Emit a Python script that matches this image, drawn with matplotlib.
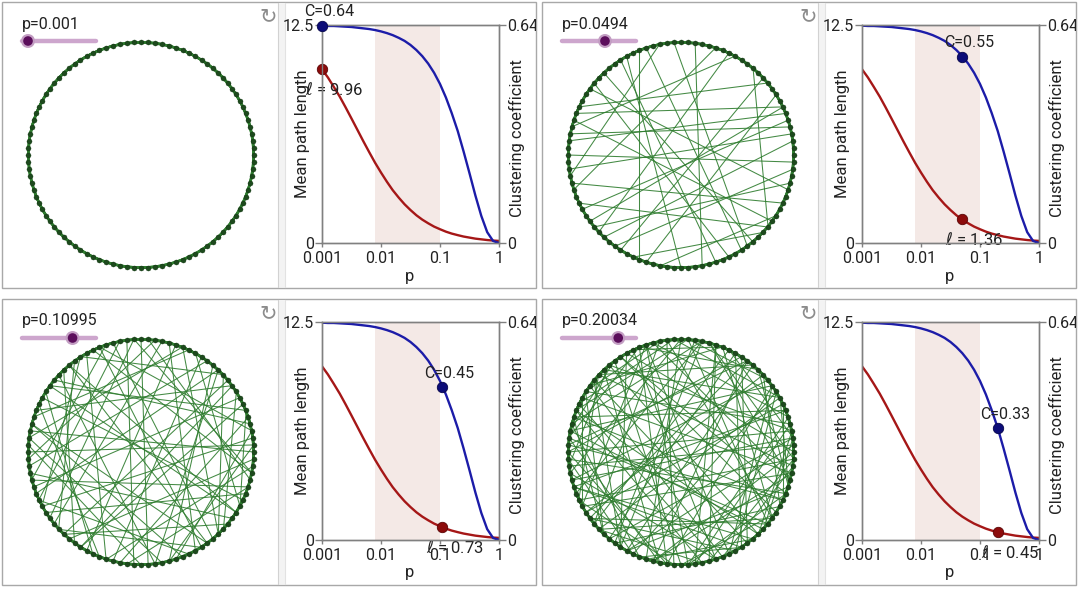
import numpy as np
import matplotlib
matplotlib.use('Agg')
import matplotlib.pyplot as plt
from matplotlib.collections import LineCollection
from matplotlib.patches import Rectangle, Circle
from matplotlib.transforms import Bbox

plt.rcParams['font.family'] = ['Roboto', 'DejaVu Sans']
plt.rcParams['mathtext.fontset'] = 'dejavusans'

# ---------------- data ----------------
p_grid = [0.001, 0.00126, 0.00158, 0.002, 0.00251, 0.00316, 0.00398, 0.00501, 0.00631, 0.00794,
          0.01, 0.0126, 0.0158, 0.02, 0.0251, 0.0316, 0.0398, 0.0501, 0.0631, 0.0794,
          0.1, 0.126, 0.158, 0.2, 0.251, 0.316, 0.398, 0.501, 0.631, 0.794, 1.0]
path_length = [9.96, 9.49, 8.96, 8.39, 7.78, 7.14, 6.49, 5.84, 5.21, 4.60,
               4.04, 3.51, 3.03, 2.60, 2.22, 1.89, 1.59, 1.34, 1.13, 0.94,
               0.79, 0.65, 0.54, 0.45, 0.37, 0.31, 0.25, 0.21, 0.17, 0.14, 0.12]
clustering = [0.641, 0.640, 0.640, 0.639, 0.638, 0.637, 0.635, 0.633, 0.631, 0.628,
              0.624, 0.619, 0.613, 0.605, 0.596, 0.584, 0.569, 0.551, 0.529, 0.502,
              0.469, 0.429, 0.383, 0.330, 0.270, 0.206, 0.140, 0.080, 0.032, 0.006, 0.0]

p_selected = [0.001, 0.0494, 0.10995, 0.20034]
p_labels = ['p=0.001', 'p=0.0494', 'p=0.10995', 'p=0.20034']
C_selected = [0.64, 0.55, 0.45, 0.33]
L_selected = [9.96, 1.36, 0.73, 0.45]

shade_range = [0.008, 0.1]
x_ticks = [0.001, 0.01, 0.1, 1]
x_ticklabels = ['0.001', '0.01', '0.1', '1']
L_max = 12.5
C_max = 0.6429

n_nodes = 100
k_half = 4

shortcuts_1 = []
shortcuts_2 = [(30, 84), (26, 85), (33, 75), (31, 69), (14, 89), (43, 11), (44, 7), (47, 4),
               (48, 6), (52, 3), (50, 99), (45, 90), (58, 5), (60, 7), (57, 89), (65, 98),
               (72, 91), (37, 86), (34, 80), (18, 62), (20, 55), (2, 63), (9, 70), (40, 95),
               (23, 78), (54, 93), (61, 96), (12, 66), (28, 53), (68, 88), (46, 17), (39, 82)]
shortcuts_3 = [(0, 47), (2, 58), (3, 31), (5, 72), (6, 40), (8, 55), (9, 88), (11, 63), (12, 34),
               (14, 79), (15, 52), (17, 92), (18, 45), (20, 67), (21, 83), (23, 51), (24, 96),
               (26, 60), (27, 74), (29, 86), (30, 54), (32, 97), (33, 70), (35, 62), (36, 85),
               (38, 77), (39, 4), (41, 68), (42, 93), (44, 10), (46, 81), (48, 19), (49, 75),
               (50, 1), (53, 90), (56, 13), (57, 28), (59, 94), (61, 22), (64, 99), (65, 37),
               (66, 7), (69, 43), (71, 16), (73, 95), (76, 25), (78, 48), (80, 3), (82, 57),
               (84, 31), (87, 12), (89, 63), (91, 36), (92, 6), (95, 54), (97, 26), (98, 70),
               (1, 79), (10, 66), (19, 87), (34, 58), (40, 91), (62, 84), (77, 13), (85, 46)]
shortcuts_4 = [(0, 33), (0, 71), (1, 52), (2, 18), (2, 64), (3, 87), (4, 41), (5, 29), (5, 76),
               (6, 55), (7, 93), (8, 37), (9, 68), (10, 47), (10, 82), (11, 24), (12, 59),
               (13, 95), (14, 38), (15, 71), (16, 50), (17, 84), (18, 61), (19, 32), (20, 77),
               (21, 99), (22, 46), (23, 65), (24, 89), (25, 53), (26, 8), (27, 74), (28, 41),
               (29, 96), (30, 58), (31, 13), (32, 80), (33, 66), (34, 91), (35, 47), (36, 3),
               (37, 72), (38, 57), (39, 85), (40, 19), (41, 63), (42, 97), (43, 26), (44, 78),
               (45, 6), (46, 69), (47, 88), (48, 31), (49, 15), (50, 73), (51, 94), (52, 36),
               (53, 80), (54, 11), (55, 86), (56, 22), (57, 99), (58, 42), (59, 7), (60, 83),
               (61, 28), (62, 90), (63, 45), (64, 17), (65, 92), (66, 39), (67, 1), (68, 51),
               (69, 84), (70, 25), (71, 97), (72, 48), (73, 10), (74, 57), (75, 35), (76, 94),
               (77, 4), (78, 62), (79, 20), (80, 43), (81, 98), (82, 30), (83, 9), (84, 55),
               (85, 16), (86, 70), (87, 44), (88, 2), (89, 60), (90, 27), (91, 75), (92, 12),
               (93, 49), (94, 34), (95, 67), (96, 21), (97, 58), (98, 38), (99, 79), (3, 50),
               (8, 62), (14, 67), (19, 90), (24, 44), (30, 76), (36, 87), (45, 93), (54, 2),
               (60, 15), (66, 22), (73, 31), (81, 40), (89, 48), (95, 8)]
shortcuts = [shortcuts_1, shortcuts_2, shortcuts_3, shortcuts_4]

# ---------------- style ----------------
W, H = 1080, 593
RED = '#a51717'
BLUE = '#1c1ca8'
RED_DOT = '#8c0b0b'
BLUE_DOT = '#0c0c78'
SPINE = '#808080'
TXT = '#222222'
SHADE = '#f4e9e6'
EDGE = '#2f7d2f'
NODE = '#1d4a1d'

fig = plt.figure(figsize=(W / 100, H / 100), dpi=100)
bg = fig.add_axes([0, 0, 1, 1], zorder=0)
bg.set_xlim(0, W)
bg.set_ylim(H, 0)
bg.axis('off')

offsets = [(0, 0), (540, 0), (0, 297), (540, 297)]
theta = 2 * np.pi * np.arange(n_nodes) / n_nodes
lattice = [(i, (i + d) % n_nodes) for i in range(n_nodes) for d in range(1, k_half + 1)]


def px_rect(x, y, w, h):
    return [x / W, 1 - (y + h) / H, w / W, h / H]


for idx, (ox, oy) in enumerate(offsets):
    # frames
    bg.add_patch(Rectangle((ox + 2, oy + 2), 534, 286, fill=False, ec='#a8a8a8', lw=1.0))
    bg.add_patch(Rectangle((ox + 278, oy + 3), 7, 284, fc='#f3f3f3', ec='none'))
    bg.plot([ox + 278, ox + 278], [oy + 3, oy + 287], color='#d2d2d2', lw=0.8)
    bg.plot([ox + 285, ox + 285], [oy + 3, oy + 287], color='#e2e2e2', lw=0.8)

    # network
    cx, cy, R = ox + 141, oy + 155, 113
    xs = cx + R * np.cos(theta)
    ys = cy - R * np.sin(theta)
    segs = [[(xs[i], ys[i]), (xs[j], ys[j])] for i, j in lattice]
    bg.add_collection(LineCollection(segs, colors=EDGE, linewidths=1.3, zorder=2))
    segs2 = [[(xs[i], ys[i]), (xs[j], ys[j])] for i, j in shortcuts[idx]]
    if segs2:
        bg.add_collection(LineCollection(segs2, colors=EDGE, linewidths=0.75, alpha=0.9, zorder=2))
    bg.plot(xs, ys, 'o', ms=3.6, color=NODE, mec='#123512', mew=0.3, zorder=3)

    # slider
    p = p_selected[idx]
    frac = (np.log10(p) + 3) / 3
    ty = oy + 41
    bg.plot([ox + 22, ox + 96], [ty, ty], color='#cda6cd', lw=3.2, solid_capstyle='round', zorder=2)
    kx = ox + 28 + frac * 65.5
    bg.add_patch(Circle((kx, ty), 7, fc='#c39ec3', ec='none', zorder=3))
    bg.add_patch(Circle((kx, ty), 4.8, fc='#5b0e5b', ec='none', zorder=4))
    bg.text(ox + 22, oy + 24, p_labels[idx], fontsize=11.5, color=TXT, ha='left', va='center')
    bg.text(ox + 268, oy + 16, '\u21bb', fontsize=15, color='#8c8c8c', ha='center', va='center',
            family='DejaVu Sans')

    # chart
    ax = fig.add_axes(px_rect(ox + 322, oy + 25, 177, 218), zorder=2)
    ax.patch.set_visible(False)
    ax.set_xscale('log')
    ax.set_xlim(0.001, 1)
    ax.set_ylim(0, L_max)
    ax.axvspan(shade_range[0], shade_range[1], color=SHADE, lw=0, zorder=0)
    ax.plot(p_grid, path_length, color=RED, lw=1.7, zorder=2)
    ax.plot([p], [L_selected[idx]], 'o', ms=7.5, color=RED_DOT, mec='#5a0505', mew=0.6,
            clip_on=False, zorder=5)
    ax.set_xticks(x_ticks)
    ax.set_xticklabels(x_ticklabels)
    ax.minorticks_off()
    ax.set_yticks([0, L_max])
    ax.set_yticklabels(['0', '12.5'])
    ax.tick_params(axis='both', colors=SPINE, labelcolor=TXT, labelsize=11.5, width=1)
    ax.tick_params(axis='y', length=5, pad=1)
    ax.tick_params(axis='x', length=3, pad=3)
    for s in ax.spines.values():
        s.set_color(SPINE)
        s.set_linewidth(1)
    ax.annotate(r'$\ell$ = %.2f' % L_selected[idx], (p, L_selected[idx]), xytext=(12, -20),
                textcoords='offset pixels', ha='center', va='center', fontsize=12, color=TXT,
                annotation_clip=False, zorder=6)

    ax2 = ax.twinx()
    ax2.set_ylim(0, C_max)
    ax2.plot(p_grid, clustering, color=BLUE, lw=1.7, zorder=2)
    ax2.plot([p], [C_selected[idx]], 'o', ms=7.5, color=BLUE_DOT, mec='#05054a', mew=0.6,
             clip_on=False, zorder=5)
    ax2.set_yticks([0, C_max])
    ax2.set_yticklabels(['0', '0.64'])
    ax2.tick_params(axis='y', colors=SPINE, labelcolor=TXT, labelsize=11.5, length=5, pad=1, width=1)
    for s in ax2.spines.values():
        s.set_color(SPINE)
        s.set_linewidth(1)
    clip = Bbox.from_extents(ox + 2, H - (oy + 288), ox + 536, H - (oy + 2))
    for t in ax2.get_yticklabels():
        t.set_clip_box(clip)
        t.set_clip_on(True)
    ax2.annotate('C=%.2f' % C_selected[idx], (p, C_selected[idx]), xytext=(7, 14),
                 textcoords='offset pixels', ha='center', va='center', fontsize=11.5, color=TXT,
                 annotation_clip=False, zorder=6)

    bg.text(ox + 302, oy + 134, 'Mean path length', rotation=90, ha='center', va='center',
            fontsize=12, color=TXT)
    bg.text(ox + 517, oy + 138, 'Clustering coefficient', rotation=90, ha='center', va='center',
            fontsize=12, color=TXT)
    bg.text(ox + 410, oy + 276, 'p', ha='center', va='center', fontsize=12, color=TXT)

fig.savefig('out.png', dpi=100)
